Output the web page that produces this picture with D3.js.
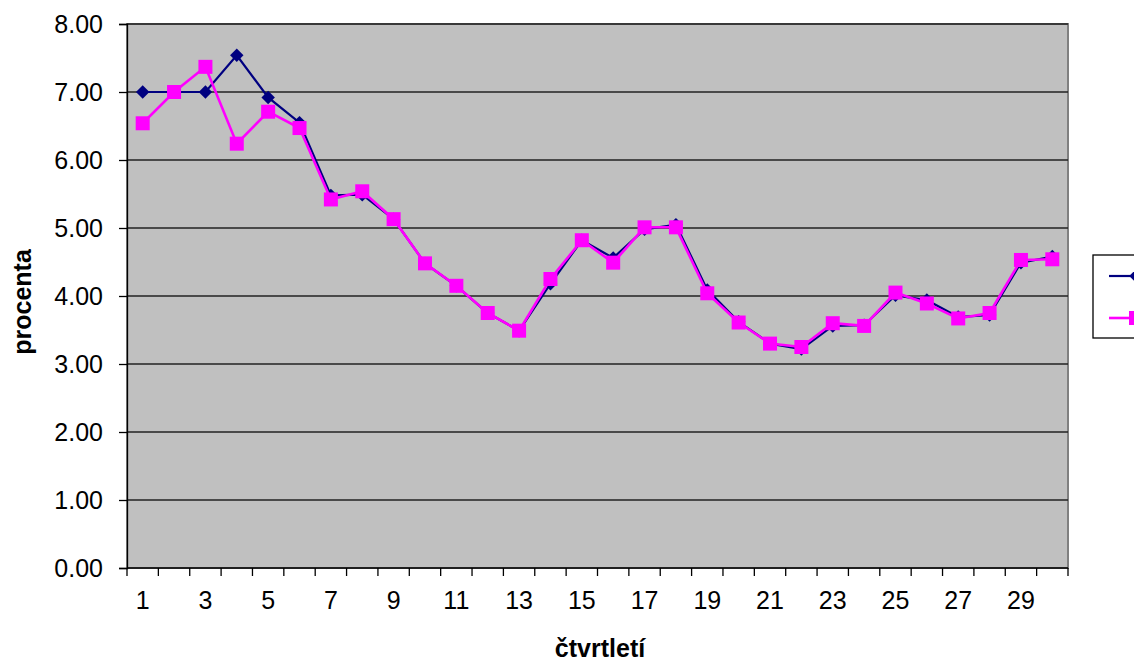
<!DOCTYPE html>
<html>
<head>
<meta charset="utf-8">
<script src="https://cdn.jsdelivr.net/npm/d3@7"></script>
<style>
  html, body { margin: 0; padding: 0; background: #fff; }
  svg { display: block; font-family: "Liberation Sans", Arial, sans-serif; }
</style>
</head>
<body>
<svg id="chart" width="1144" height="666"></svg>
<script>
// Quarters 1..30
const quarters = d3.range(1, 31);
// Series values (percent)
const seriesA = [7.00, 7.00, 7.00, 7.54, 6.92, 6.55, 5.48, 5.49, 5.13, 4.48,
                 4.15, 3.75, 3.49, 4.18, 4.82, 4.56, 4.98, 5.05, 4.09, 3.62,
                 3.30, 3.22, 3.56, 3.57, 4.01, 3.94, 3.69, 3.72, 4.49, 4.58];
const seriesB = [6.54, 7.00, 7.37, 6.24, 6.71, 6.47, 5.42, 5.54, 5.13, 4.48,
                 4.15, 3.75, 3.49, 4.25, 4.82, 4.49, 5.01, 5.01, 4.04, 3.61,
                 3.30, 3.25, 3.60, 3.56, 4.05, 3.89, 3.67, 3.75, 4.53, 4.54];
const yTicks = [0, 1, 2, 3, 4, 5, 6, 7, 8];
const xTickLabels = quarters.filter(q => q % 2 === 1);

const svg = d3.select("#chart");
const plot = { left: 127, right: 1068, top: 24, bottom: 568 };

const x = d3.scaleBand().domain(quarters).range([plot.left, plot.right]).paddingInner(0).paddingOuter(0);
const y = d3.scaleLinear().domain([0, 8]).range([plot.bottom, plot.top]);
const cx = q => x(q) + x.bandwidth() / 2;

// plot background
svg.append("rect")
  .attr("x", plot.left).attr("y", plot.top)
  .attr("width", plot.right - plot.left).attr("height", plot.bottom - plot.top)
  .attr("fill", "#c0c0c0").attr("stroke", "#808080").attr("stroke-width", 2);

// horizontal gridlines
svg.append("g")
  .selectAll("line").data(yTicks.filter(t => t > 0)).join("line")
  .attr("x1", plot.left).attr("x2", plot.right)
  .attr("y1", d => y(d)).attr("y2", d => y(d))
  .attr("stroke", "#222").attr("stroke-width", 1.3);

// y axis
const yAxis = svg.append("g")
  .attr("transform", `translate(${plot.left},0)`)
  .call(d3.axisLeft(y).tickValues(yTicks).tickFormat(d3.format(".2f")).tickSize(8).tickPadding(16));
yAxis.select(".domain").attr("stroke", "#000").attr("stroke-width", 1.3);
yAxis.selectAll(".tick line").attr("stroke", "#000").attr("stroke-width", 1.3);
yAxis.selectAll("text").attr("font-size", 25).attr("fill", "#000")
  .attr("font-family", "'Liberation Sans', Arial, sans-serif");

// x axis: ticks on category boundaries, labels on odd quarters
const xAxisG = svg.append("g").attr("transform", `translate(0,${plot.bottom})`);
xAxisG.append("line")
  .attr("x1", plot.left).attr("x2", plot.right)
  .attr("stroke", "#000").attr("stroke-width", 1.3);
const boundaries = quarters.map(q => x(q)).concat([plot.right]);
xAxisG.selectAll("line.tk").data(boundaries).join("line").attr("class", "tk")
  .attr("x1", d => d).attr("x2", d => d).attr("y1", 0).attr("y2", 8)
  .attr("stroke", "#000").attr("stroke-width", 1.3);
xAxisG.selectAll("text").data(xTickLabels).join("text")
  .attr("x", d => cx(d)).attr("y", 41)
  .attr("text-anchor", "middle").attr("font-size", 25).attr("fill", "#000")
  .text(d => d);

// axis titles
svg.append("text")
  .attr("x", 600).attr("y", 657)
  .attr("text-anchor", "middle").attr("font-size", 25).attr("font-weight", "bold")
  .text("čtvrtletí");
svg.append("text")
  .attr("transform", "translate(31,302) rotate(-90)")
  .attr("text-anchor", "middle").attr("font-size", 25).attr("font-weight", "bold")
  .text("procenta");

// series lines and markers
const line = d3.line().x((d, i) => cx(quarters[i])).y(d => y(d));

svg.append("path").datum(seriesA)
  .attr("d", line).attr("fill", "none").attr("stroke", "#000080").attr("stroke-width", 2.2);
svg.append("g").selectAll("path").data(seriesA).join("path")
  .attr("transform", (d, i) => `translate(${cx(quarters[i])},${y(d)})`)
  .attr("d", d3.symbol(d3.symbolDiamond2, 115))
  .attr("fill", "#000080");

svg.append("path").datum(seriesB)
  .attr("d", line).attr("fill", "none").attr("stroke", "#ff00ff").attr("stroke-width", 2.6);
svg.append("g").selectAll("rect").data(seriesB).join("rect")
  .attr("x", (d, i) => cx(quarters[i]) - 7).attr("y", d => y(d) - 7)
  .attr("width", 14).attr("height", 14)
  .attr("fill", "#ff00ff");

// legend (runs off the right edge)
const clip = svg.append("clipPath").attr("id", "legclip");
clip.append("rect").attr("x", 1080).attr("y", 240).attr("width", 54).attr("height", 110);
const leg = svg.append("g").attr("clip-path", "url(#legclip)");
leg.append("rect")
  .attr("x", 1093).attr("y", 255).attr("width", 120).attr("height", 83)
  .attr("fill", "#fff").attr("stroke", "#000").attr("stroke-width", 1.3);
leg.append("line").attr("x1", 1109).attr("x2", 1140).attr("y1", 276).attr("y2", 276)
  .attr("stroke", "#000080").attr("stroke-width", 2.2);
leg.append("path").attr("transform", "translate(1136,276)")
  .attr("d", d3.symbol(d3.symbolDiamond2, 115)).attr("fill", "#000080");
leg.append("line").attr("x1", 1109).attr("x2", 1140).attr("y1", 318).attr("y2", 318)
  .attr("stroke", "#ff00ff").attr("stroke-width", 2.6);
leg.append("rect").attr("x", 1129).attr("y", 311).attr("width", 14).attr("height", 14)
  .attr("fill", "#ff00ff");
</script>
</body>
</html>
